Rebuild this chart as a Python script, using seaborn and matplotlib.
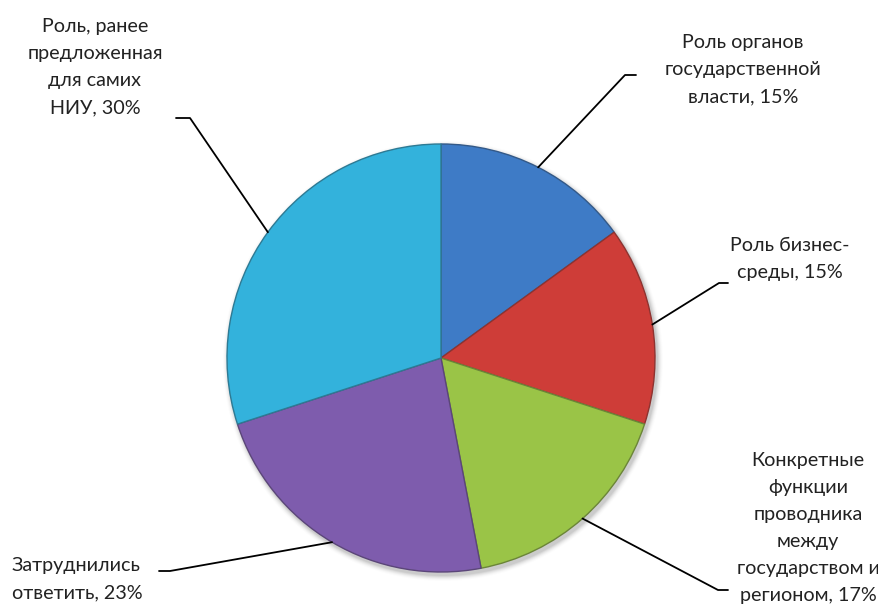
import numpy as np
import seaborn as sns
import matplotlib.pyplot as plt

# Chart data
labels = [
    "Роль органов\nгосударственной\nвласти, 15%",
    "Роль бизнес-\nсреды, 15%",
    "Конкретные\nфункции\nпроводника\nмежду\nгосударством и\nрегионом, 17%",
    "Затруднились\nответить, 23%",
    "Роль, ранее\nпредложенная\nдля самих\nНИУ, 30%",
]
shares = [15, 15, 17, 23, 30]
colors = ["#3E7BC6", "#CE3D38", "#9AC447", "#7E5CAD", "#33B2DC"]

sns.set_theme(style="white")
plt.rcParams['font.family'] = ['Lato', 'DejaVu Sans']

W, H = 879, 608
fig = plt.figure(figsize=(W / 100, H / 100), dpi=100)
ax = fig.add_axes([0, 0, 1, 1])

cx, cy, r = 441, H - 358, 214

# soft shadow under the pie
for i, a in enumerate(np.linspace(0.06, 0.01, 6)):
    ax.add_patch(plt.Circle((cx + 2, cy - 3), r + 1 + i, color='black', alpha=a, lw=0, zorder=0))

edge_cols = [sns.dark_palette(c, n_colors=6)[3] for c in colors]
wedges, _ = ax.pie(shares, colors=colors, startangle=90, counterclock=False,
                   center=(cx, cy), radius=r, frame=True,
                   wedgeprops=dict(linewidth=1.0))
for w, ec in zip(wedges, edge_cols):
    w.set_edgecolor(ec)
    w.set_zorder(2)
ax.set_xlim(0, W)
ax.set_ylim(0, H)
ax.set_aspect('equal')
ax.axis('off')

# label layout: (text x, text y, align, elbow x, elbow y, end x)
layout = [
    (743, 70, 'center', 625, 75, 636),
    (790, 259, 'center', 719, 283, 728),
    (808, 528, 'center', 718, 590, 728),
    (12, 579, 'left', 170, 571, 159),
    (95, 67, 'center', 190, 118, 176),
]

for w, lab, (tx, ty, ha, ex, ey, endx) in zip(wedges, labels, layout):
    ang = np.deg2rad((w.theta1 + w.theta2) / 2)
    px, py = cx + r * np.cos(ang), cy + r * np.sin(ang)
    ax.plot([px, ex, endx], [py, H - ey, H - ey], color='black', lw=1.3, zorder=3)
    ax.text(tx, H - ty, lab, ha=ha, va='center', fontsize=14.2,
            color='#222222', linespacing=1.72)

fig.savefig('out.png', dpi=100)
